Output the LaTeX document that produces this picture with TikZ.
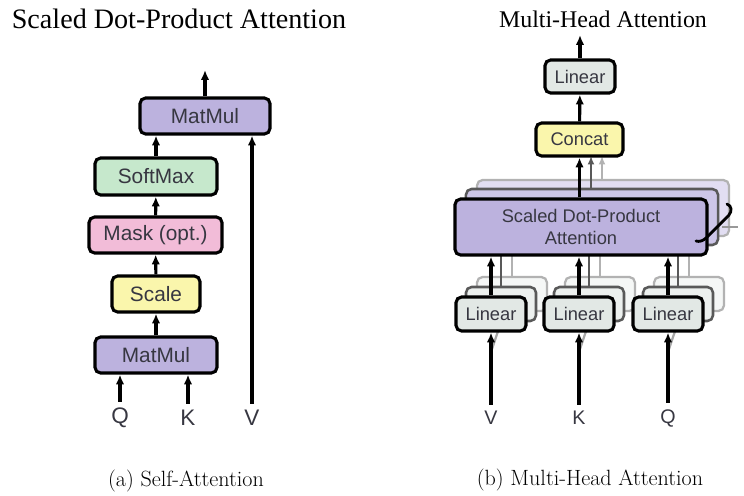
\documentclass[tikz,border=0pt]{standalone}
\usepackage{fontspec}
\usepackage{tikz}
\usetikzlibrary{arrows.meta}
\setsansfont{Liberation Sans}
\newfontfamily\titlefont{Liberation Serif}

\newlength\pxl
\setlength\pxl{0.7113pt}

\definecolor{matcol}{RGB}{188,178,222}
\definecolor{softcol}{RGB}{198,232,204}
\definecolor{maskcol}{RGB}{242,188,216}
\definecolor{scalecol}{RGB}{250,246,172}
\definecolor{lincol}{RGB}{226,232,229}
\definecolor{txtcol}{RGB}{55,55,65}
\definecolor{midcol}{RGB}{205,198,232}
\definecolor{backcol}{RGB}{226,222,242}
\definecolor{linmid}{RGB}{236,240,238}
\definecolor{linback}{RGB}{245,247,246}

\tikzset{
	blk/.style={draw=black, line width=2.2pt, rounded corners=4pt, text=txtcol, font=\sffamily\fontsize{14.8}{16}\selectfont, inner sep=0pt},
	hblk/.style={blk, font=\sffamily\fontsize{13}{15.5}\selectfont, align=center},
	midblk/.style={hblk, draw=black!65, line width=1.8pt},
	backblk/.style={hblk, draw=black!30, line width=1.6pt},
	flow/.style={line width=2.2pt, -{Latex[length=7pt, width=6pt]}},
	midflow/.style={line width=1.8pt, draw=black!65, -{Latex[length=6pt, width=5pt]}},
	backflow/.style={line width=1.6pt, draw=black!30, -{Latex[length=6pt, width=5pt]}},
	inp/.style={text=txtcol, font=\sffamily\fontsize{16}{18}\selectfont},
}

\begin{document}
\begin{tikzpicture}[x=0.025cm, y=-0.025cm]
		\useasboundingbox (0, 0) rectangle (744, 495);

		\node[font=\titlefont\fontsize{20}{22}\selectfont] at (179, 19) (title1) {Scaled Dot-Product Attention};
		\node[font=\titlefont\fontsize{17}{20}\selectfont] at (603, 19) (title2) {Multi-Head Attention};

		\node[blk, fill=matcol, minimum width=130\pxl, minimum height=36\pxl] at (205, 116) (mm2) {MatMul};
		\node[blk, fill=softcol, minimum width=122\pxl, minimum height=37\pxl] at (156, 176.5) (sm) {SoftMax};
		\node[blk, fill=maskcol, minimum width=133\pxl, minimum height=36\pxl] at (155.5, 235) (mask) {Mask (opt.)};
		\node[blk, fill=scalecol, minimum width=88\pxl, minimum height=36\pxl] at (156, 294) (sc) {Scale};
		\node[blk, fill=matcol, minimum width=122\pxl, minimum height=36\pxl] at (156, 355) (mm1) {MatMul};

		\node[inp] at (120, 418) (q) {Q};
		\node[inp] at (188, 418) (k) {K};
		\node[inp] at (252, 418) (v) {V};
		\coordinate (out1) at (205, 70);

		\draw[flow, shorten <=1pt] (q) -- (q |- mm1.south);
		\draw[flow, shorten <=1pt] (k) -- (k |- mm1.south);
		\draw[flow, shorten <=1pt] (v) -- (v |- mm2.south);
		\draw[flow] (mm1) -- (sc);
		\draw[flow] (sc) -- (mask);
		\draw[flow] (mask) -- (sm);
		\draw[flow] (sm.north) -- (sm.north |- mm2.south);
		\draw[flow] (mm2) -- (out1);

		\node[font=\fontsize{15.7}{18}\selectfont] at (186, 481) (cap1) {(a) Self-Attention};

		\node[backblk, fill=linback, minimum width=70\pxl, minimum height=34\pxl] at (512, 294) (lv3) {};
		\node[backblk, fill=linback, minimum width=70\pxl, minimum height=34\pxl] at (600, 294) (lk3) {};
		\node[backblk, fill=linback, minimum width=70\pxl, minimum height=34\pxl] at (689, 294) (lq3) {};
		\node[backblk, fill=backcol, minimum width=252\pxl, minimum height=56\pxl] at (603, 208) (att3) {};
		\draw[backflow] (lv3) -- (lv3 |- att3.south);
		\draw[backflow] (lk3) -- (lk3 |- att3.south);
		\draw[backflow] (lq3) -- (lq3 |- att3.south);
		\draw[backflow] (att3.north -| 602, 0) -- (602, 156);

		\node[midblk, fill=linmid, minimum width=70\pxl, minimum height=34\pxl] at (501, 304) (lv2) {};
		\node[midblk, fill=linmid, minimum width=70\pxl, minimum height=34\pxl] at (589, 304) (lk2) {};
		\node[midblk, fill=linmid, minimum width=70\pxl, minimum height=34\pxl] at (678, 304) (lq2) {};
		\node[midblk, fill=midcol, minimum width=252\pxl, minimum height=56\pxl] at (592, 217) (att2) {};
		\draw[midflow] (lv2) -- (lv2 |- att2.south);
		\draw[midflow] (lk2) -- (lk2 |- att2.south);
		\draw[midflow] (lq2) -- (lq2 |- att2.south);
		\draw[midflow] (att2.north -| 591, 0) -- (591, 156);

		\node[inp, font=\sffamily\fontsize{14}{16}\selectfont] at (491, 418) (v2) {V};
		\node[inp, font=\sffamily\fontsize{14}{16}\selectfont] at (579, 418) (k2) {K};
		\node[inp, font=\sffamily\fontsize{14}{16}\selectfont] at (668, 418) (q2) {Q};
		\draw[line width=1.6pt, black!35] (491, 352) -- (lv2.south);
		\draw[line width=1.6pt, black!35] (579, 352) -- (lk2.south);
		\draw[line width=1.6pt, black!35] (668, 352) -- (lq2.south);

		\node[hblk, fill=lincol, minimum width=70\pxl, minimum height=34\pxl] at (491, 314) (lv) {Linear};
		\node[hblk, fill=lincol, minimum width=70\pxl, minimum height=34\pxl] at (579, 314) (lk) {Linear};
		\node[hblk, fill=lincol, minimum width=70\pxl, minimum height=34\pxl] at (668, 314) (lq) {Linear};
		\node[hblk, fill=matcol, minimum width=252\pxl, minimum height=56\pxl] at (581, 227) (att) {Scaled Dot-Product\\Attention};
		\node[hblk, fill=scalecol, minimum width=87\pxl, minimum height=33\pxl] at (579.5, 139.5) (cat) {Concat};
		\node[hblk, fill=lincol, minimum width=70\pxl, minimum height=33\pxl] at (580, 76.5) (lo) {Linear};
		\coordinate (out2) at (580, 35);

		\draw[flow, shorten <=1pt] (v2) -- (lv);
		\draw[flow, shorten <=1pt] (k2) -- (lk);
		\draw[flow, shorten <=1pt] (q2) -- (lq);
		\draw[flow] (lv) -- (lv |- att.south);
		\draw[flow] (lk) -- (lk |- att.south);
		\draw[flow] (lq) -- (lq |- att.south);
		\draw[flow] (att.north -| cat) -- (cat);
		\draw[flow] (cat) -- (lo);
		\draw[flow] (lo) -- (out2);

		\draw[line width=2pt, line cap=round] (727, 204) .. controls (732, 206) and (732, 211) .. (729, 215) -- (706, 238) .. controls (703, 241) and (699, 242) .. (696, 241);
		\draw[line width=1.2pt, black!40] (722, 227) -- (738, 227);

		\node[font=\fontsize{15.7}{18}\selectfont] at (590, 480) (cap2) {(b) Multi-Head Attention};
	\end{tikzpicture}
\end{document}
